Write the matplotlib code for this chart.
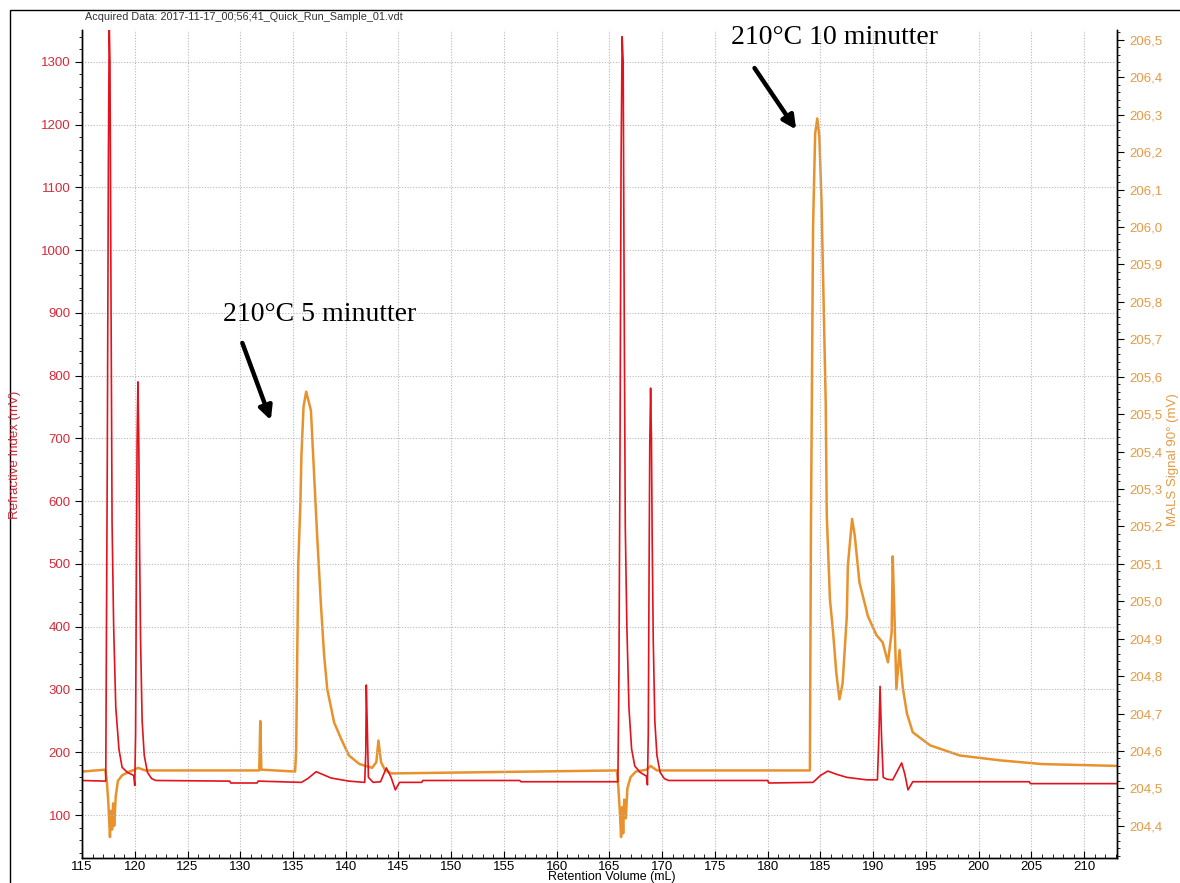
import matplotlib
matplotlib.use("Agg")
import matplotlib.pyplot as plt
from matplotlib.ticker import MultipleLocator, FuncFormatter
from matplotlib.patches import Rectangle

plt.rcParams["font.family"] = ["Liberation Sans", "DejaVu Sans"]

RED = "#e3121b"
ORANGE = "#e8922e"
RED_TXT = "#d42a3a"
ORANGE_TXT = "#e39a45"

# Refractive index trace (mL, mV)
ri_vol = [115.0, 117.25, 117.3, 117.4, 117.5, 117.58, 117.65, 117.75, 117.85, 118.0,
          118.2, 118.5, 118.8, 119.3, 119.9, 120.0, 120.08, 120.15, 120.22, 120.3,
          120.38, 120.45, 120.55, 120.7, 120.9, 121.2, 121.6, 122.0, 129.0, 129.1,
          131.6, 131.7, 135.8, 136.4, 137.2, 138.6, 140.3, 141.8, 141.9, 141.95,
          142.05, 142.15, 142.6, 143.3, 143.85, 144.3, 144.7, 145.1, 147.2, 147.3,
          156.5, 156.6, 165.8, 165.9, 166.0, 166.1, 166.2, 166.3, 166.4, 166.5,
          166.65, 166.85, 167.1, 167.4, 167.9, 168.5, 168.6, 168.68, 168.75, 168.82,
          168.9, 168.98, 169.05, 169.15, 169.3, 169.5, 169.8, 170.2, 170.6, 180.0,
          180.1, 184.3, 185.0, 185.7, 186.5, 187.5, 189.4, 190.4, 190.55, 190.65,
          190.8, 190.95, 191.3, 191.85, 192.35, 192.7, 193.0, 193.3, 193.75, 204.8,
          204.9, 213.2]
ri_mv = [155, 154, 330, 680, 1140, 1360, 1300, 920, 565, 400,
         272, 205, 176, 168, 163, 147, 230, 470, 690, 790,
         700, 540, 380, 250, 195, 168, 158, 155, 154, 151,
         151, 154, 152, 158, 169, 159, 154, 152, 200, 307,
         235, 160, 152, 153, 175, 160, 140, 152, 152, 155,
         155, 153, 153, 330, 680, 1140, 1340, 1300, 900, 560,
         400, 270, 205, 178, 168, 162, 148, 230, 470, 690,
         780, 700, 540, 380, 250, 195, 168, 158, 155, 155,
         151, 152, 163, 170, 165, 160, 156, 156, 230, 305,
         220, 160, 157, 156, 172, 183, 165, 140, 153, 153,
         150, 150]

# MALS 90 degree trace (mL, mV)
mals_vol = [115.0, 117.2, 117.35, 117.5, 117.6, 117.65, 117.75, 117.85, 117.95, 118.05,
            118.2, 118.4, 118.8, 119.5, 120.0, 120.3, 121.0, 131.8, 131.9, 132.0,
            135.2, 135.3, 135.5, 135.7, 135.8, 136.0, 136.25, 136.7, 137.0, 137.3,
            137.65, 137.95, 138.25, 138.9, 139.6, 140.3, 141.3, 142.5, 142.9, 143.1,
            143.35, 143.7, 144.3, 165.7, 165.85, 166.0, 166.1, 166.2, 166.3, 166.4,
            166.55, 166.7, 167.0, 167.5, 168.5, 168.9, 169.5, 184.0, 184.1, 184.3,
            184.5, 184.7, 184.9, 185.1, 185.3, 185.5, 185.6, 185.9, 186.2, 186.5,
            186.8, 187.1, 187.5, 187.6, 188.0, 188.25, 188.7, 189.5, 190.3, 190.9,
            191.4, 191.75, 191.85, 192.0, 192.2, 192.5, 192.8, 193.2, 193.75, 195.4,
            198.2, 202.0, 206.0, 213.2]
mals_mv = [204.545, 204.55, 204.52, 204.46, 204.40, 204.37, 204.44, 204.39, 204.46, 204.40,
           204.48, 204.52, 204.535, 204.545, 204.55, 204.555, 204.548, 204.548, 204.68, 204.55,
           204.545, 204.6, 205.1, 205.26, 205.39, 205.52, 205.56, 205.51, 205.34, 205.17,
           204.99, 204.856, 204.765, 204.676, 204.63, 204.588, 204.565, 204.555, 204.57, 204.628,
           204.57, 204.55, 204.54, 204.548, 204.5, 204.43, 204.37, 204.45, 204.38, 204.47,
           204.42, 204.5, 204.53, 204.545, 204.55, 204.56, 204.548, 204.548, 205.2, 206.0,
           206.25, 206.29, 206.24, 206.07, 205.8, 205.53, 205.23, 205.005, 204.917, 204.81,
           204.738, 204.78, 204.96, 205.096, 205.22, 205.176, 205.05, 204.96, 204.91, 204.89,
           204.837, 204.917, 205.12, 204.98, 204.765, 204.87, 204.77, 204.70, 204.65, 204.615,
           204.588, 204.575, 204.565, 204.56]

fig = plt.figure(figsize=(11.8, 8.83), dpi=100)
ax = fig.add_axes([0.0695, 0.0283, 0.877, 0.938])
ax2 = ax.twinx()
ax.set_zorder(ax2.get_zorder() + 1)
ax.patch.set_visible(False)

ax2.plot(mals_vol, mals_mv, color=ORANGE, lw=1.8)
ax.plot(ri_vol, ri_mv, color=RED, lw=1.2)

ax.set_xlim(115, 213.1)
ax.set_ylim(31.5, 1351)
ax2.set_ylim(204.314, 206.527)

ax.xaxis.set_major_locator(MultipleLocator(5))
ax.xaxis.set_minor_locator(MultipleLocator(1))
ax.yaxis.set_major_locator(MultipleLocator(100))
ax.yaxis.set_minor_locator(MultipleLocator(20))
ax2.yaxis.set_major_locator(MultipleLocator(0.1))
ax2.yaxis.set_minor_locator(MultipleLocator(0.02))
ax2.yaxis.set_major_formatter(FuncFormatter(lambda v, p: f"{v:.1f}".replace(".", ",")))

ax.grid(True, which="major", color="#b8b8b8", ls=(0, (1, 1.5)), lw=0.8)

for a in (ax, ax2):
    a.spines["top"].set_visible(False)
    for s in ("left", "right", "bottom"):
        a.spines[s].set_linewidth(1.0)

ax.tick_params(axis="x", which="major", direction="in", length=5, pad=2,
               labelsize=9.5, colors="black")
ax.tick_params(axis="x", which="minor", direction="in", length=3)
ax.tick_params(axis="y", which="major", direction="out", length=5, pad=3,
               labelsize=9.5, labelcolor=RED_TXT)
ax.tick_params(axis="y", which="minor", direction="out", length=2.5)
ax2.tick_params(axis="y", which="major", direction="out", length=5, pad=4,
                labelsize=9.5, labelcolor=ORANGE_TXT)
ax2.tick_params(axis="y", which="minor", direction="out", length=2.5)

fig.text(15 / 1180, 1 - 455 / 883, "Refractive Index (mV)", rotation=90,
         ha="center", va="center", color=RED_TXT, fontsize=9.5)
fig.text(1173 / 1180, 1 - 460 / 883, "MALS Signal 90° (mV)", rotation=90,
         ha="center", va="center", color=ORANGE_TXT, fontsize=9.5)
fig.text(612 / 1180, 1 - 877 / 883, "Retention Volume (mL)", ha="center",
         va="center", fontsize=9)
fig.text(85 / 1180, 1 - 17 / 883,
         "Acquired Data: 2017-11-17_00;56;41_Quick_Run_Sample_01.vdt",
         ha="left", va="center", fontsize=7.8, color="#333333")

# frame around the whole report panel
fig.patches.append(Rectangle((10 / 1180, -0.1), 2, 1.1 - 10 / 883, fill=False,
                             ec="black", lw=1, transform=fig.transFigure))

serif = ["Liberation Serif", "DejaVu Serif"]
arrow = dict(arrowstyle="-|>", lw=3.2, color="black", mutation_scale=20,
             shrinkA=0, shrinkB=0)
ax.text(137.5, 897, "210°C 5 minutter", family=serif, fontsize=20,
        ha="center", va="center")
ax.annotate("", xy=(132.9, 729), xytext=(130.2, 852), arrowprops=arrow)
ax.text(186.35, 1338, "210°C 10 minutter", family=serif, fontsize=20,
        ha="center", va="center", clip_on=False)
ax.annotate("", xy=(182.7, 1192), xytext=(178.75, 1290), arrowprops=arrow)

fig.savefig("out.png", dpi=100)
